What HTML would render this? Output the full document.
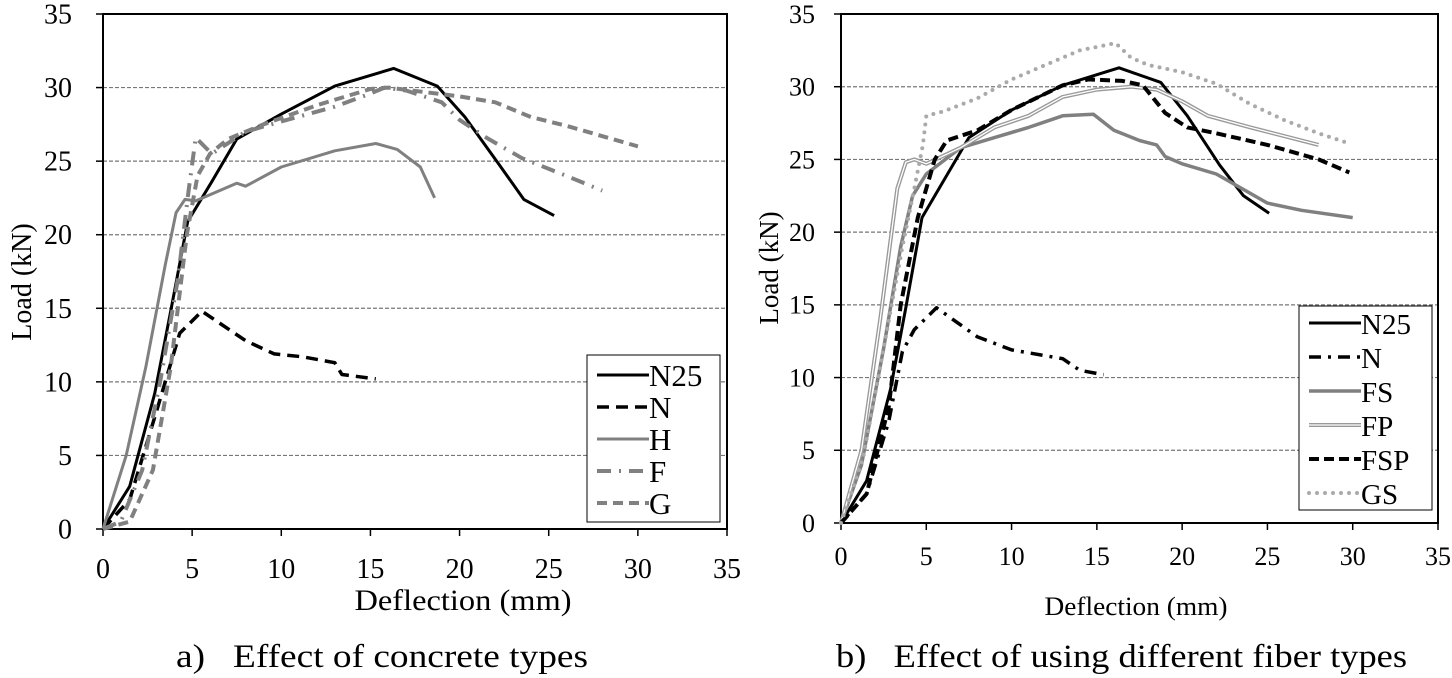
<!DOCTYPE html>
<html><head><meta charset="utf-8"><style>
html,body{margin:0;padding:0;background:#fff;}
svg{display:block;font-family:"Liberation Serif",serif;}
</style></head><body>
<svg id="fig" width="1452" height="678" viewBox="0 0 1452 678">
<g id="pa"></g>
<g id="pb"></g>
<text x="176" y="667" font-size="33" xml:space="preserve" style="white-space:pre" textLength="412" lengthAdjust="spacingAndGlyphs">a)   Effect of concrete types</text>
<text x="836" y="667" font-size="33" xml:space="preserve" style="white-space:pre" textLength="571" lengthAdjust="spacingAndGlyphs">b)   Effect of using different fiber types</text>
</svg>
<script>
const xTicks=[0,5,10,15,20,25,30,35];
const yTicks=[0,5,10,15,20,25,30,35];
// Panel a data
const aN25x=[0,1.5,2.9,3.8,4.75,6.1,7.5,10,13,16.3,18.75,20.3,22.2,23.6,25.3];
const aN25y=[0,2.9,9.2,14.8,20.9,23.6,26.5,28.2,30.1,31.3,30.1,28,24.8,22.4,21.3];
const aNx=[0,1.5,3,4.3,5.55,8,9.6,11.2,13,13.4,15.3];
const aNy=[0,2,8,13.3,14.8,12.8,11.9,11.7,11.3,10.5,10.2];
const aHx=[0,1.3,2.4,3.5,4.1,4.6,5.2,7.5,8,10,13,15.3,16.5,17.8,18.6];
const aHy=[0,5,11,18,21.5,22.4,22.3,23.5,23.3,24.6,25.7,26.2,25.8,24.6,22.5];
const aFx=[0,1,2.2,3.2,4.2,4.8,5.2,6.1,8,10,13,14.8,15.8,17,19,20,21.5,23.5,26,28];
const aFy=[0,0.5,4,10,17,23,26.6,25.5,27,27.7,28.7,29.5,30,29.8,29,27.8,26.6,25.2,24,23];
const aGx=[0,1.5,2.8,3.8,4.7,5.3,6,7,9,12,15,16,18,20,22,24,26,30];
const aGy=[0,0.5,4,11,20,24,25.5,26.5,27.5,28.8,29.9,30,29.7,29.4,29,28,27.4,26];
// Panel b data
const bN25x=[0,1.5,2.9,3.8,4.75,6,7.5,10,13,16.3,18.75,20.3,22.2,23.6,25.1];
const bN25y=[0,2.9,9.2,14.8,21,23.5,26.5,28.4,30.1,31.3,30.3,28,24.6,22.5,21.3];
const bNx=[0,1.5,2.8,3.6,4.3,5.6,8,10,13,14,15.4];
const bNy=[0,2,7,11.8,13.3,14.8,12.8,11.9,11.3,10.5,10.2];
const bFSx=[0,1.2,2.5,3.5,4.2,5,7,9,11,13,14.8,16,17.5,18.5,19,20,22,23.5,25,27,30];
const bFSy=[0,4,12,19,22.5,24,25.8,26.5,27.2,28,28.1,27,26.3,26,25.2,24.7,24,23,22,21.5,21];
const bFPx=[0,1.2,2.3,3.3,3.8,4.3,5,7,9,11,13,15,17,18.5,20,21.5,24,28];
const bFPy=[0,5,14,23,24.8,25,24.7,25.8,27.2,28,29.3,29.8,30,29.8,29,28,27.2,26];
const bFSPx=[0,1.5,2.8,3.5,4.5,5.5,6.2,8,10,13,14.5,16.5,17.7,19,20.3,22,25,28,29.8];
const bFSPy=[0,2,8,15,21,25,26.3,27,28.4,30.1,30.5,30.4,30.1,28.2,27.2,26.8,26,25,24.1];
const bGSx=[0,1.3,2.5,3.6,4.3,4.8,5,6,8,10,12,14,16.1,17,18,20,22,24,26,28,29.8];
const bGSy=[0,4.5,12,19,23,26,28,28.3,29.2,30.5,31.5,32.5,33,32,31.5,31,30.2,28.8,27.7,26.8,26.1];

const NS="http://www.w3.org/2000/svg";
function mk(parent,tag,attrs){const e=document.createElementNS(NS,tag);for(const k in attrs)e.setAttribute(k,attrs[k]);parent.appendChild(e);return e;}

function panel(g,P,series,legend,T){
  const sx=v=>P.x0+v*(P.x1-P.x0)/35, sy=v=>P.y0-v*(P.y0-P.y1)/35;
  yTicks.forEach(t=>{
    if(t>0&&t<35){const l=mk(g,'line',{x1:P.x0,x2:P.x1,y1:sy(t),y2:sy(t),stroke:'#777','stroke-width':1.2,'stroke-dasharray':'4 2'});
    
    }
    const tk=mk(g,'line',{x1:P.x0-7,x2:P.x0,y1:sy(t),y2:sy(t),stroke:'#000','stroke-width':1.5});
    
    
    const tx=mk(g,'text',{x:P.x0-T.yOff,y:sy(t)+T.tk*0.34,'font-size':T.tk,'text-anchor':'end'});tx.textContent=t;
    
    
  });
  xTicks.forEach(t=>{
    const tk=mk(g,'line',{x1:sx(t),x2:sx(t),y1:P.y0,y2:P.y0+7,stroke:'#000','stroke-width':1.5});
    
    
    const tx=mk(g,'text',{x:sx(t),y:P.y0+T.xOff,'font-size':T.tk,'text-anchor':'middle'});tx.textContent=t;
    
    
  });
  const box=mk(g,'rect',{x:P.x0,y:P.y1,width:P.x1-P.x0,height:P.y0-P.y1,fill:'none',stroke:'#000','stroke-width':2});
  
  
  series.forEach(s=>{
    const d=s.x.map((v,i)=>(i?'L':'M')+sx(v).toFixed(1)+' '+sy(s.y[i]).toFixed(1)).join(' ');
    let p;
    if(s.dbl){p=mk(g,'path',{d:d,fill:'none',stroke:s.c,'stroke-width':4,'stroke-linejoin':'round'});
      const w=mk(g,'path',{d:d,fill:'none',stroke:'#fff','stroke-width':1.3});
      
      }
    else p=mk(g,'path',{d:d,fill:'none',stroke:s.c,'stroke-width':s.w,'stroke-dasharray':s.da||'none','stroke-linejoin':'round','stroke-linecap':s.cap||'butt'});
    
    
  });
  const L=legend;
  const lb=mk(g,'rect',{x:L.x,y:L.y,width:L.w,height:L.h,fill:'#fff',stroke:'#000','stroke-width':1});
  
  
  series.forEach((s,i)=>{
    const yy=L.y+L.pad+i*L.step;
    if(s.dbl){mk(g,'line',{x1:L.x+10,x2:L.x+62,y1:yy,y2:yy,stroke:s.c,'stroke-width':4});}
    const ln=mk(g,'line',{x1:L.x+10,x2:L.x+62,y1:yy,y2:yy,stroke:s.dbl?'#fff':s.c,'stroke-width':s.dbl?1.3:s.w,'stroke-dasharray':s.dbl?'none':(s.da||'none'),'stroke-linecap':s.cap||'butt'});
    
    
    const t=mk(g,'text',{x:L.x+62,y:yy+11,'font-size':L.fs});t.textContent=s.n;
    
    
  });
  const yl=mk(g,'text',{x:0,y:0,'font-size':T.yt,'text-anchor':'middle',transform:`translate(${T.ytX},${T.ytY}) rotate(-90)`});yl.textContent='Load (kN)';
  
  
  const xl=mk(g,'text',{x:T.xtX,y:T.xtY,'font-size':T.xt,'text-anchor':'middle',textLength:T.xtW,lengthAdjust:'spacingAndGlyphs'});xl.textContent='Deflection (mm)';
  
  
}
const black='#000',gray='#808080',lgray='#aaaaaa';
panel(document.getElementById('pa'),{x0:103,x1:727,y0:529,y1:14},[
 {n:'N25',x:aN25x,y:aN25y,c:black,w:3},
 {n:'N',x:aNx,y:aNy,c:black,w:3.5,da:'12 7'},
 {n:'H',x:aHx,y:aHy,c:gray,w:3},
 {n:'F',x:aFx,y:aFy,c:gray,w:4,da:'14 8 2 8'},
 {n:'G',x:aGx,y:aGy,c:gray,w:4,da:'10 6'}
],{x:587,y:355,w:133,h:167,pad:20,step:32,fs:31},
 {tk:28,yOff:31,xOff:49,yt:28,ytX:31,ytY:282,xt:30,xtX:463,xtY:610,xtW:217});
panel(document.getElementById('pb'),{x0:841,x1:1438,y0:523,y1:14},[
 {n:'N25',x:bN25x,y:bN25y,c:black,w:3},
 {n:'N',x:bNx,y:bNy,c:black,w:3.5,da:'12 7 3 7'},
 {n:'FS',x:bFSx,y:bFSy,c:gray,w:3.5},
 {n:'FP',x:bFPx,y:bFPy,c:'#999',w:4,dbl:true},
 {n:'FSP',x:bFSPx,y:bFSPy,c:black,w:4,da:'10 5'},
 {n:'GS',x:bGSx,y:bGSy,c:lgray,w:4,da:'0 8',cap:'round'}
],{x:1299,y:306,w:133,h:204,pad:17,step:34,fs:29},
 {tk:26,yOff:26,xOff:42,yt:27,ytX:778,ytY:268,xt:26,xtX:1136,xtY:615,xtW:183});
</script>
</body></html>
